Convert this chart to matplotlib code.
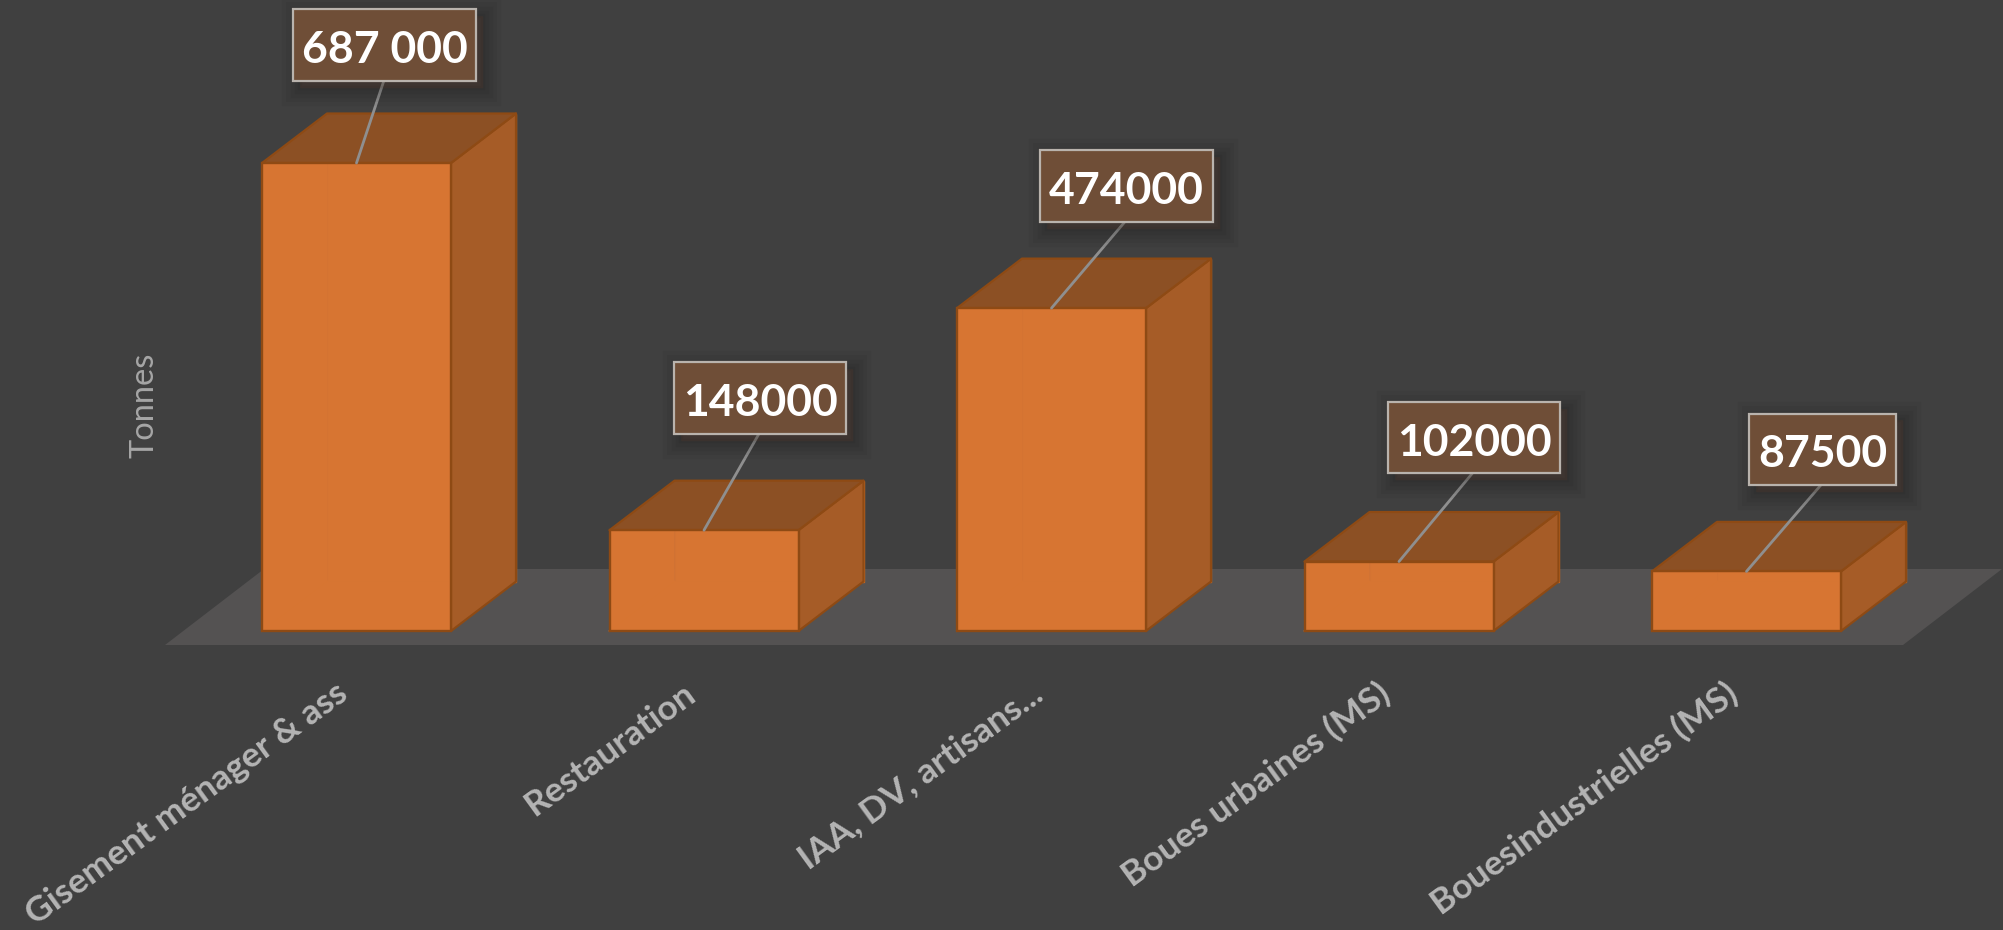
import matplotlib
matplotlib.use("Agg")
import matplotlib.pyplot as plt
import matplotlib.patheffects as pe
from matplotlib.patches import Polygon
from matplotlib.path import Path
from matplotlib.transforms import ScaledTranslation

categories = ["Gisement ménager & ass", "Restauration", "IAA, DV, artisans...",
              "Boues urbaines (MS)", "Bouesindustrielles (MS)"]
values = [687000, 148000, 474000, 102000, 87500]
value_labels = ["687 000", "148000", "474000", "102000", "87500"]
axis_title = "Tonnes"

W, H = 2003, 930
BG = "#404040"
FRONT = "#D67534"
BACK = "#E27A2A"
SIDE = "#A65C27"
TOP = "#8C5024"
EDGE = "#8E4A14"
FLOOR = "#545252"

SPACING = 347.5
X0 = 356.5
BASE_Y = 631
UNIT = 468 / 687000
px = 1 / SPACING
py = 1 / UNIT
BAR_W = 189 * px
DX, DY = 65 * px, 49.5 * py

fig = plt.figure(figsize=(W / 100, H / 100), dpi=100, facecolor=BG)
ax = fig.add_axes([0, 0, 1, 1], facecolor=BG)
ax.set_xlim(-X0 * px, (W - X0) * px)
ax.set_ylim(-(H - BASE_Y) * py, BASE_Y * py)
for s in ax.spines.values():
    s.set_visible(False)
ax.spines["bottom"].set_position(("data", 0))
ax.set_yticks([])

f_left, f_right = (165 - X0) * px, (1903 - X0) * px
f_front, f_back = -14 * py, 62 * py
f_dx = 99 * px
ax.add_patch(Polygon([(f_left, f_front), (f_right, f_front),
                      (f_right + f_dx, f_back), (f_left + f_dx, f_back)],
                     closed=True, fc=FLOOR, ec="none", zorder=1))

xs = list(range(len(values)))
for x, v in zip(xs, values):
    l, r = x - BAR_W / 2, x + BAR_W / 2
    ax.add_patch(Polygon([(l + DX, DY), (r + DX, DY), (r + DX, v + DY), (l + DX, v + DY)],
                         closed=True, fc=BACK, ec="#C96A22", lw=1.0, zorder=2))
    ax.add_patch(Polygon([(l, 0), (l + DX, DY), (l + DX, v + DY), (l, v)],
                         closed=True, fc=BACK, ec="none", zorder=2))
    ax.add_patch(Polygon([(l, 0), (r, 0), (r + DX, DY), (l + DX, DY)],
                         closed=True, fc=BACK, ec="none", zorder=2))
    ax.plot([l, l + DX], [0, DY], color="#E5781F", lw=1.2, zorder=2.1)
    ax.add_patch(Polygon([(r, 0), (r + DX, DY), (r + DX, v + DY), (r, v)],
                         closed=True, fc=SIDE, ec=EDGE, lw=1.6, joinstyle="round", zorder=3))
    ax.add_patch(Polygon([(l, v), (r, v), (r + DX, v + DY), (l + DX, v + DY)],
                         closed=True, fc=TOP, ec=EDGE, lw=1.6, joinstyle="round", zorder=3))

ax.bar(xs, values, width=BAR_W, color=FRONT, alpha=0.9, zorder=4)
ax.bar(xs, values, width=BAR_W, fill=False, edgecolor=EDGE, linewidth=1.7, zorder=4.5)


def label_box(x0, y0, w, h, mutation_size):
    """Rectangle with separate horizontal, top and bottom padding."""
    pad_x = 0.20 * mutation_size
    pad_top, pad_bottom = 0.47 * mutation_size, 0.24 * mutation_size
    a, b, c, d = x0 - pad_x, y0 - pad_bottom, x0 + w + pad_x, y0 + h + pad_top
    return Path([(a, b), (c, b), (c, d), (a, d), (a, b)], closed=True)


offsets = [(28, 113), (56, 127), (75, 117), (75, 119), (76, 117)]
shadow = [pe.Stroke(linewidth=w, foreground="black", alpha=0.045, offset=(5, -5))
          for w in (26, 20, 14, 8, 3)] + [pe.Normal()]
for x, v, lab, (ox, oy) in zip(xs, values, value_labels, offsets):
    t = ax.annotate(lab, xy=(x, v), xytext=(ox, oy), textcoords="offset pixels",
                    ha="center", va="center", color="white", fontsize=32,
                    fontfamily="Lato", fontweight="bold", zorder=6,
                    bbox=dict(boxstyle=label_box, fc="#6F4E37", ec="#B9B3AD", lw=1.6),
                    arrowprops=dict(arrowstyle="-", color="#8F8F8F", lw=2,
                                    shrinkA=0, shrinkB=0, relpos=(0.5, -0.22), patchA=None))
    t.get_bbox_patch().set_path_effects(shadow)

ax.set_xticks(xs)
ax.set_xticklabels(categories, rotation=36, ha="right", va="top", rotation_mode="anchor",
                   fontfamily="Lato", fontweight="bold", fontsize=25.5, color="#B4B4B4")
ax.tick_params(axis="x", length=0, pad=33)
shift = ScaledTranslation(-22 / 100, 0, fig.dpi_scale_trans)
for lab in ax.get_xticklabels():
    lab.set_transform(lab.get_transform() + shift)

ax.text(145 / W, 1 - 405 / H, axis_title, transform=ax.transAxes, rotation=90,
        ha="center", va="center", fontfamily="Lato", fontsize=23.5, color="#A6A6A6")

fig.savefig("out.png", dpi=100, facecolor=BG)
